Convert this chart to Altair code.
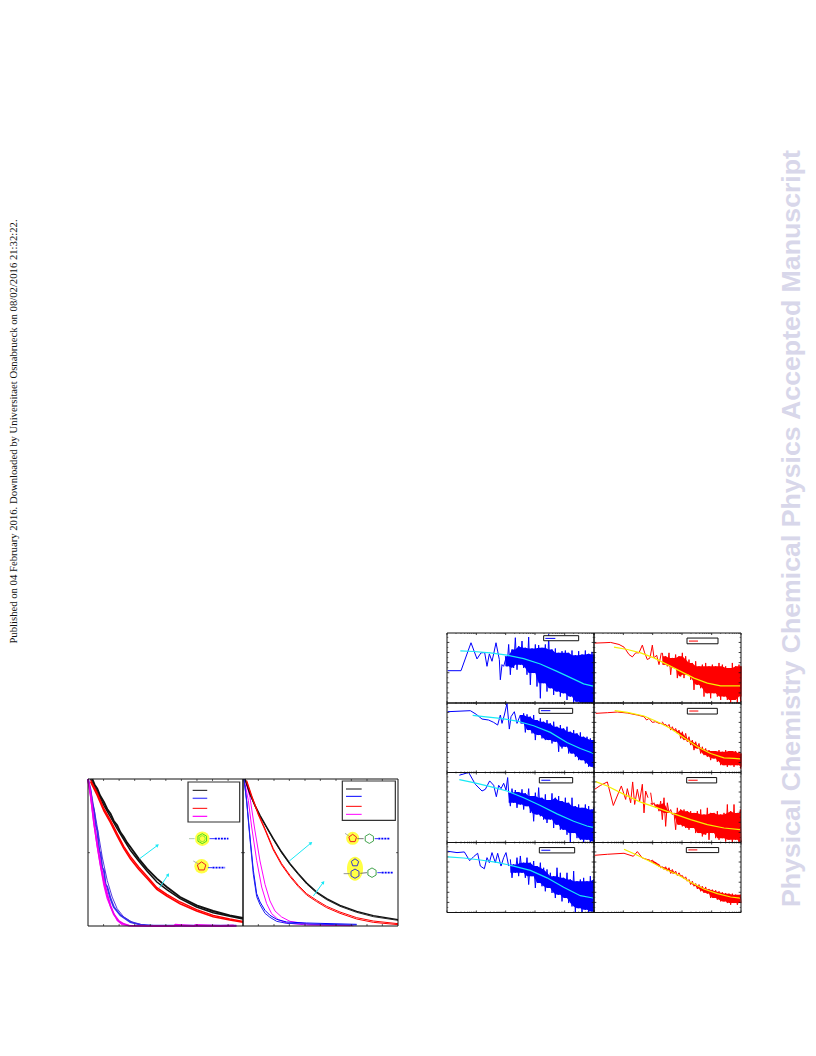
import altair as alt

# ---- text on the page
SIDE_TEXT = "Published on 04 February 2016. Downloaded by Universitaet Osnabrueck on 08/02/2016 21:32:22."
WATERMARK = "Physical Chemistry Chemical Physics Accepted Manuscript"

# ---- layout: pixel boxes (left, right, top, bottom) on the page; data extents
OFF = 8
DECAY_BOX = {"A": (88, 243, 779, 926), "B": (243, 398, 779, 926)}
DECAY_EXT = {"A": (468, 441), "B": (465, 441)}
COLS = {0: (447, 594), 1: (594, 741)}
ROWS = {0: (633, 703), 1: (703, 772.5), 2: (772.5, 842.5), 3: (842.5, 912.5)}
SPEC_EXT = (441, 208)

# ---- decay curves, panel A
a_black1_x = [13, 20, 28, 36, 48, 58, 68, 78, 88, 98, 108, 118, 128, 153, 178, 208, 238, 278, 328, 378, 428, 468]
a_black1_y = [441, 424, 412, 392, 372, 351, 337, 315, 302, 281, 267, 250, 237, 202, 172, 142, 117, 87, 62, 45, 32, 24]
a_black2_x = [8, 28, 48, 68, 88, 108, 128, 153, 178, 208, 238, 278, 328, 378, 428, 468]
a_black2_y = [441, 402, 362, 327, 292, 259, 227, 195, 165, 132, 109, 82, 57, 40, 29, 21]
a_red1_y = [437, 399, 352, 317, 277, 239, 209, 177, 149, 115, 95, 72, 49, 32, 21, 14]
a_red2_y = [432, 392, 345, 310, 270, 233, 202, 170, 143, 110, 90, 67, 45, 28, 18, 11]
a_blue_x = [0, 8, 13, 18, 24, 28, 34, 38, 43, 48, 53, 58, 68, 78, 98, 128, 158, 198, 278, 448]
a_blue_y = [441, 407, 365, 347, 300, 287, 226, 217, 175, 167, 125, 117, 82, 57, 32, 12, 4, 1, 1, 1]
a_bluefit_x = [0, 13, 28, 43, 58, 73, 88, 108, 138, 178]
a_bluefit_y = [441, 382, 297, 207, 137, 87, 52, 27, 9, 1]
a_mag1_x = [0, 8, 18, 28, 38, 48, 58, 73, 88, 103, 128, 278, 448]
a_mag1_y = [437, 387, 307, 237, 177, 122, 82, 47, 17, 4, 1, 0, 0]
a_mag2_x = [0, 8, 18, 28, 38, 48, 58, 68, 78, 93, 108, 123, 200, 260, 264, 320, 325, 400, 440]
a_mag2_y = [441, 395, 310, 245, 185, 135, 95, 60, 35, 15, 6, 1, 0, 0, 4, 0, 3, 0, 2]

# ---- decay curves, panel B
b_black_x = [6, 21, 36, 51, 71, 91, 116, 141, 166, 191, 221, 251, 291, 341, 391, 465]
b_black_y = [441, 397, 362, 332, 297, 262, 222, 187, 157, 129, 102, 82, 62, 44, 31, 19]
b_black2_y = [441, 394, 359, 329, 294, 259, 219, 184, 154, 126, 99, 79, 59, 41, 28, 17]
b_red_x = [11, 26, 46, 66, 91, 116, 141, 166, 191, 221, 251, 291, 341, 391, 465]
b_red_y = [437, 392, 337, 292, 232, 187, 152, 122, 97, 77, 59, 42, 25, 15, 7]
b_red2_y = [433, 388, 333, 288, 228, 183, 148, 118, 93, 73, 55, 38, 21, 11, 4]
b_blue_x = [3, 11, 21, 31, 41, 51, 66, 81, 101, 131, 191, 341]
b_blue_y = [441, 377, 267, 167, 97, 72, 47, 32, 20, 12, 9, 5]
b_blue2_y = [441, 372, 260, 155, 88, 64, 38, 26, 14, 8, 6, 3]
b_mag_x = [3, 16, 26, 41, 56, 71, 86, 106, 131, 191, 321]
b_mag_y = [441, 377, 297, 197, 117, 67, 37, 19, 9, 3, 1]
b_mag2_x = [6, 21, 36, 51, 66, 81, 96, 116, 141, 201, 331]
b_mag2_y = [441, 385, 285, 195, 125, 75, 45, 27, 14, 5, 1]

# ---- spectra: (column, row), low-frequency trace, noisy band, fit
SPECTRA = [
    dict(cell=(0, 0), color="#0000ff", fit="#19e8f5",
         low_x=[2, 42, 72, 90, 102, 113, 120, 127, 135, 140, 147, 152, 157, 160, 165, 170, 177],
         low_y=[96, 96, 179, 131, 149, 150, 109, 146, 124, 146, 179, 154, 129, 69, 114, 109, 134],
         band_x=list(range(175, 436, 10)) + [441],
         up=[139, 174, 159, 194, 169, 184, 164, 196, 162, 174, 172, 164, 174, 204, 159, 162, 149, 154, 156, 149, 156, 142, 154, 144, 156, 146, 152, 144],
         lo=[109, 84, 104, 99, 114, 104, 84, 54, 89, 49, 14, 59, 34, 44, 24, 34, 19, 29, 9, 19, 0, 4, 0, 0, 0, 0, 0, 0],
         fit_x=[40, 80, 130, 180, 230, 280, 330, 380, 410, 438],
         fit_y=[155, 153, 149, 142, 132, 116, 94, 71, 57, 50],
         box=(290, 395, 185, 200), key=(295, 325, 192)),
    dict(cell=(0, 1), color="#0000ff", fit="#19e8f5",
         low_x=[2, 70, 88, 105, 125, 140, 152, 160, 165, 172, 180, 187, 192, 202, 210, 220],
         low_y=[182, 185, 174, 160, 157, 150, 142, 172, 147, 172, 207, 130, 167, 182, 147, 172],
         band_x=list(range(220, 431, 10)) + [441],
         up=[172, 177, 174, 167, 172, 157, 162, 152, 157, 147, 152, 137, 142, 132, 137, 122, 127, 117, 120, 107, 107, 102, 97],
         lo=[147, 120, 127, 117, 97, 112, 102, 97, 97, 87, 92, 62, 72, 77, 57, 57, 47, 37, 37, 27, 17, 17, 12],
         fit_x=[77, 110, 160, 210, 260, 310, 360, 400, 440],
         fit_y=[171, 167, 162, 154, 140, 120, 90, 72, 57],
         box=(276, 377, 177, 192), key=(282, 310, 185)),
    dict(cell=(0, 2), color="#0000ff", fit="#19e8f5",
         low_x=[37, 65, 85, 105, 115, 128, 140, 148, 155, 162, 170, 177, 182, 185],
         low_y=[200, 208, 173, 153, 158, 183, 170, 136, 170, 160, 176, 156, 193, 148],
         band_x=list(range(185, 436, 10)) + [440],
         up=[148, 160, 156, 150, 158, 146, 160, 138, 148, 163, 133, 143, 126, 146, 133, 138, 123, 133, 118, 133, 108, 113, 103, 113, 108, 98, 103],
         lo=[108, 118, 103, 113, 98, 108, 88, 63, 83, 78, 68, 58, 68, 43, 53, 38, 38, 23, 0, 28, 13, 8, 0, 8, 0, 3, 0],
         fit_x=[37, 80, 130, 180, 230, 280, 330, 380, 420, 438],
         fit_y=[187, 178, 166, 153, 133, 110, 85, 63, 49, 45],
         box=(277, 377, 177, 193), key=(283, 310, 185)),
    dict(cell=(0, 3), color="#0000ff", fit="#19e8f5",
         low_x=[2, 30, 52, 68, 80, 92, 100, 112, 120, 127, 135, 145, 152, 162, 170, 177, 185],
         low_y=[182, 178, 180, 154, 166, 176, 138, 130, 163, 148, 178, 148, 176, 138, 163, 178, 138],
         band_x=list(range(190, 441, 10)),
         up=[158, 143, 163, 168, 148, 163, 148, 153, 138, 148, 133, 128, 118, 108, 133, 118, 103, 118, 98, 123, 93, 98, 103, 93, 108, 98],
         lo=[103, 118, 108, 118, 103, 83, 108, 73, 88, 78, 63, 73, 58, 43, 53, 33, 43, 28, 18, 0, 13, 0, 8, 0, 3, 0],
         fit_x=[2, 50, 100, 150, 200, 250, 300, 350, 400, 438],
         fit_y=[165, 162, 156, 149, 138, 125, 103, 75, 50, 43],
         box=(277, 383, 177, 193), key=(283, 310, 185)),
    dict(cell=(1, 0), color="#ff0000", fit="#f5f000",
         low_x=[2, 30, 50, 75, 90, 105, 115, 125, 135, 145, 152, 160, 168, 175, 180, 188, 195, 202],
         low_y=[178, 179, 180, 174, 166, 144, 137, 149, 149, 172, 149, 129, 134, 172, 134, 142, 114, 149],
         band_x=list(range(205, 436, 10)) + [441],
         up=[149, 139, 149, 134, 144, 139, 149, 139, 129, 119, 124, 109, 114, 119, 109, 114, 109, 119, 114, 109, 104, 119, 109, 114, 109],
         lo=[114, 109, 84, 104, 74, 79, 74, 84, 69, 39, 54, 44, 19, 29, 14, 29, 19, 9, 19, 9, 0, 9, 0, 4, 19],
         fit_x=[60, 100, 140, 180, 220, 260, 300, 340, 380, 410, 438],
         fit_y=[166, 159, 149, 134, 114, 94, 74, 59, 51, 51, 51],
         box=(279, 372, 176, 193), key=(285, 312, 184)),
    dict(cell=(1, 1), color="#ff0000", fit="#f5f000",
         low_x=[5, 40, 70, 100, 130, 150, 158, 165, 175, 185, 195, 205],
         low_y=[177, 179, 181, 178, 172, 167, 157, 162, 150, 152, 147, 147],
         band_x=list(range(205, 436, 10)) + [441],
         up=[152, 144, 144, 137, 132, 127, 122, 117, 107, 97, 92, 87, 77, 72, 67, 64, 64, 67, 62, 67, 64, 64, 64, 62, 57],
         lo=[142, 137, 127, 124, 117, 102, 97, 92, 82, 67, 72, 57, 52, 47, 37, 42, 32, 22, 22, 17, 22, 17, 22, 12, 17],
         fit_x=[62, 100, 150, 190, 230, 270, 310, 350, 390, 420, 438],
         fit_y=[185, 180, 169, 152, 132, 104, 77, 57, 44, 42, 41],
         box=(280, 370, 175, 192), key=(286, 313, 184)),
    dict(cell=(1, 2), color="#ff0000", fit="#f5f000",
         low_x=[2, 20, 40, 58, 82, 95, 100, 110, 116, 122, 130, 137, 145, 150, 155, 162],
         low_y=[158, 170, 180, 110, 168, 128, 160, 118, 180, 113, 158, 123, 173, 88, 153, 133],
         band_x=list(range(170, 431, 10)) + [439],
         up=[148, 118, 113, 123, 133, 118, 98, 88, 103, 98, 98, 93, 93, 88, 93, 98, 83, 103, 88, 88, 93, 83, 88, 113, 93, 113, 88, 98],
         lo=[113, 103, 93, 68, 48, 88, 83, 38, 53, 48, 43, 38, 43, 28, 28, 18, 23, 8, 28, 13, 8, 13, 3, 8, 0, 8, 0, 0],
         fit_x=[5, 40, 90, 140, 190, 240, 290, 340, 390, 438],
         fit_y=[181, 168, 143, 120, 103, 85, 68, 53, 43, 38],
         box=(278, 368, 177, 193), key=(283, 311, 185)),
    dict(cell=(1, 3), color="#ff0000", fit="#f5f000",
         low_x=[2, 40, 90, 118, 130, 145, 165],
         low_y=[170, 173, 176, 167, 181, 162, 156],
         band_x=list(range(165, 426, 10)) + [439],
         up=[158, 156, 148, 143, 136, 136, 133, 128, 123, 118, 110, 106, 98, 93, 86, 83, 78, 76, 70, 68, 66, 63, 60, 58, 56, 56, 53, 53],
         lo=[152, 150, 143, 133, 128, 123, 116, 116, 110, 108, 100, 93, 83, 78, 70, 63, 58, 56, 43, 43, 38, 33, 33, 28, 23, 28, 23, 28],
         fit_x=[90, 130, 170, 210, 250, 290, 330, 370, 410, 438],
         fit_y=[188, 170, 151, 130, 113, 90, 70, 56, 46, 43],
         box=(277, 374, 178, 193), key=(283, 310, 186)),
]

# ---- ticks
decade_ticks = [0, 88, 176, 264, 353, 441]
minor_ticks = [d + m for d in [0, 88, 176, 264, 353] for m in [27, 42, 53, 62, 68, 74, 80, 84]]
spec_y_major = [30, 60, 90, 120, 150, 180]
spec_y_minor = [15, 45, 75, 105, 135, 165, 195]
decay_x_ticks_a = [47, 94, 141, 188, 235, 282, 329, 376, 423]
decay_x_ticks_b = [46, 93, 139, 186, 232, 279, 325, 372, 418]
decay_y_ticks = [220]

layers = []


def scales(box, ext):
    sx = alt.Scale(domain=[0, ext[0]], range=[box[0] - OFF, box[1] - OFF], zero=False, nice=False)
    sy = alt.Scale(domain=[0, ext[1]], range=[box[3] - OFF, box[2] - OFF], zero=False, nice=False)
    return sx, sy


def line(box, ext, xs, ys, color, w=1.0):
    sx, sy = scales(box, ext)
    vals = [{"x": a, "y": b} for a, b in zip(xs, ys)]
    layers.append(alt.Chart(alt.Data(values=vals)).mark_line(color=color, strokeWidth=w).encode(
        x=alt.X("x:Q", scale=sx, axis=None), y=alt.Y("y:Q", scale=sy, axis=None)))


def noisy(box, ext, xs, up, lo, color):
    """The noise band: a solid core inside the peaks and troughs read off the picture,
    and a trace that runs between those peaks and troughs."""
    n = len(xs)
    W = ext[0]
    core_up = [min(up[max(i - 1, 0):i + 2]) for i in range(n)]
    core_lo = [max(lo[max(i - 1, 0):i + 2]) for i in range(n)]
    sx, sy = scales(box, ext)
    vals = [{"x": a, "up": b, "lo": c} for a, b, c in zip(xs, core_up, core_lo)]
    layers.append(alt.Chart(alt.Data(values=vals)).mark_area(color=color).encode(
        x=alt.X("x:Q", scale=sx, axis=None), y=alt.Y("up:Q", scale=sy, axis=None), y2=alt.Y2("lo")))
    px, py = [], []
    for i in range(n):
        px += [min(xs[i], W), min(xs[i] + 5, W)]
        py += [up[i], lo[i]]
    line(box, ext, px, py, color, 1.0)


def rect(box, ext, x0, x1, y0, y1, fill, stroke, w=1.0):
    sx, sy = scales(box, ext)
    vals = [{"x": x0, "x2": x1, "y": y0, "y2": y1}]
    kw = {"fill": fill} if fill else {"fillOpacity": 0}
    layers.append(alt.Chart(alt.Data(values=vals)).mark_rect(stroke=stroke, strokeWidth=w, **kw).encode(
        x=alt.X("x:Q", scale=sx, axis=None), x2=alt.X2("x2"),
        y=alt.Y("y:Q", scale=sy, axis=None), y2=alt.Y2("y2")))


def segs(box, ext, rows, color, w=0.8, dash=None):
    sx, sy = scales(box, ext)
    vals = [{"x": a, "x2": b, "y": c, "y2": d} for a, b, c, d in rows]
    kw = {"strokeDash": dash} if dash else {}
    layers.append(alt.Chart(alt.Data(values=vals)).mark_rule(color=color, strokeWidth=w, **kw).encode(
        x=alt.X("x:Q", scale=sx, axis=None), x2=alt.X2("x2"),
        y=alt.Y("y:Q", scale=sy, axis=None), y2=alt.Y2("y2")))


def sym(box, ext, x, y, shape, size, fill=None, stroke=None, w=1.0, angle=0):
    sx, sy = scales(box, ext)
    vals = [{"x": x, "y": y}]
    kw = {"fill": fill, "opacity": 1, "filled": True, "strokeWidth": 0} if fill else {
        "stroke": stroke, "strokeWidth": w, "filled": False, "opacity": 1}
    layers.append(alt.Chart(alt.Data(values=vals)).mark_point(shape=shape, size=size, angle=angle, **kw).encode(
        x=alt.X("x:Q", scale=sx, axis=None), y=alt.Y("y:Q", scale=sy, axis=None)))


HEX = "M0,-1L0.866,-0.5L0.866,0.5L0,1L-0.866,0.5L-0.866,-0.5Z"
PENT = "M0,-1L0.951,-0.309L0.588,0.809L-0.588,0.809L-0.951,-0.309Z"
OVAL = "M0,-1A0.67,1 0 1 1 0,1A0.67,1 0 1 1 0,-1Z"
YELLOW = "#ffff44"
GREEN = "#2f9a3a"
LIME = "#44dd22"
CY = "#19e8f5"

# ==== decay panels
A, EA = DECAY_BOX["A"], DECAY_EXT["A"]
B, EB = DECAY_BOX["B"], DECAY_EXT["B"]

line(A, EA, a_blue_x, a_blue_y, "#3333ee", 1.9)
line(A, EA, a_bluefit_x, a_bluefit_y, "#4422dd", 0.9)
line(A, EA, a_mag1_x, a_mag1_y, "#ff00ff", 1.3)
line(A, EA, a_mag2_x, a_mag2_y, "#ee00ee", 1.9)
line(A, EA, a_black1_x, a_black1_y, "#111111", 1.9)
line(A, EA, a_black2_x, a_black2_y, "#111111", 1.5)
line(A, EA, a_black2_x, a_red1_y, "#ff0000", 1.4)
line(A, EA, a_black2_x, a_red2_y, "#ff0000", 1.6)

line(B, EB, b_mag_x, b_mag_y, "#ff00ff", 1.0)
line(B, EB, b_mag2_x, b_mag2_y, "#ff00ff", 1.0)
line(B, EB, b_blue_x, b_blue_y, "#0000ff", 1.0)
line(B, EB, b_blue_x, b_blue2_y, "#2222ee", 1.0)
line(B, EB, b_black_x, b_black_y, "#111111", 1.4)
line(B, EB, b_black_x, b_black2_y, "#111111", 0.9)
line(B, EB, b_red_x, b_red_y, "#ff0000", 1.0)
line(B, EB, b_red_x, b_red2_y, "#ff0000", 1.0)

# arrows
ARROWS_A = [(156, 202, 210, 242, 53), (216, 115, 242, 154, 34)]
ARROWS_B = [(139, 195, 204, 249, 50), (211, 90, 241, 131, 36)]
for bx, ex, arrows in [(A, EA, ARROWS_A), (B, EB, ARROWS_B)]:
    for x0, y0, x1, y1, ang in arrows:
        segs(bx, ex, [(x0, x1, y0, y1)], CY, 1.0)
        sym(bx, ex, x1, y1, "triangle-up", 14, fill=CY, angle=ang)

# legends of decay panels
rect(A, EA, 302, 458, 312, 432, "#ffffff", "#333333", 1.2)
for yy, col, w in [(407, "#111111", 1.0), (383, "#5555ff", 1.4), (353, "#ff0000", 1.0), (329, "#ff00ff", 1.2)]:
    segs(A, EA, [(316, 360, yy, yy)], col, w)
rect(B, EB, 298, 457, 317, 435, "#ffffff", "#333333", 1.2)
for yy, col, w in [(411, "#111111", 1.0), (389, "#0000ff", 1.0), (359, "#ff0000", 1.0), (335, "#ff00ff", 1.0)]:
    segs(B, EB, [(309, 356, yy, yy)], col, w)

# molecules, panel A
sym(A, EA, 345, 262, "circle", 210, fill=YELLOW)
sym(A, EA, 345, 262, HEX, 100, stroke=LIME, w=1.0)
sym(A, EA, 345, 262, "circle", 35, stroke=LIME, w=0.6)
segs(A, EA, [(305, 322, 262, 262)], "#99bb99", 0.8)
segs(A, EA, [(367, 383, 262, 262)], "#0000ff", 0.8)
segs(A, EA, [(383, 424, 262, 262)], "#0000ff", 1.8, [2, 1])
sym(A, EA, 343, 179, "circle", 210, fill=YELLOW)
sym(A, EA, 343, 179, PENT, 80, stroke="#ee2222", w=1.0)
segs(A, EA, [(318, 332, 195, 187)], "#999999", 0.8)
segs(A, EA, [(362, 376, 175, 175)], "#0000ff", 0.8)
segs(A, EA, [(376, 414, 175, 175)], "#0000ff", 1.8, [2, 1])

# molecules, panel B
sym(B, EB, 329, 263, "circle", 170, fill=YELLOW)
sym(B, EB, 329, 263, PENT, 65, stroke="#ee2222", w=1.0)
segs(B, EB, [(306, 318, 278, 270)], "#999999", 0.8)
segs(B, EB, [(343, 362, 262, 262)], "#555555", 0.8)
sym(B, EB, 379, 262, HEX, 90, stroke=GREEN, w=0.9)
segs(B, EB, [(395, 406, 262, 262)], "#0000ff", 0.8)
segs(B, EB, [(406, 441, 262, 262)], "#0000ff", 1.8, [2, 1])
sym(B, EB, 336, 172, OVAL, 576, fill=YELLOW)
sym(B, EB, 336, 190, PENT, 60, stroke="#2222dd", w=0.9)
sym(B, EB, 336, 157, HEX, 85, stroke="#2222dd", w=0.9)
segs(B, EB, [(302, 320, 157, 157)], "#777777", 0.8)
segs(B, EB, [(352, 372, 158, 160)], "#555555", 0.8)
sym(B, EB, 387, 160, HEX, 90, stroke=GREEN, w=0.9)
segs(B, EB, [(403, 416, 160, 160)], "#0000ff", 0.8)
segs(B, EB, [(416, 451, 160, 160)], "#0000ff", 1.8, [2, 1])

# ticks and frames of decay panels
for bx, ex, xt in [(A, EA, decay_x_ticks_a), (B, EB, decay_x_ticks_b)]:
    segs(bx, ex, [(t, t, 0, 6) for t in xt] + [(t, t, ex[1] - 6, ex[1]) for t in xt], "#222222", 0.7)
    segs(bx, ex, [(0, 6, t, t) for t in decay_y_ticks] + [(ex[0] - 6, ex[0], t, t) for t in decay_y_ticks], "#222222", 0.7)
    rect(bx, ex, 0, ex[0], 0, ex[1], None, "#111111", 1.0)

# ==== spectra panels
for s in SPECTRA:
    c, r = s["cell"]
    box = (COLS[c][0], COLS[c][1], ROWS[r][0], ROWS[r][1])
    line(box, SPEC_EXT, s["low_x"], s["low_y"], s["color"], 1.0)
    noisy(box, SPEC_EXT, s["band_x"], s["up"], s["lo"], s["color"])
    line(box, SPEC_EXT, s["fit_x"], s["fit_y"], s["fit"], 1.2)
    x0, x1, y0, y1 = s["box"]
    rect(box, SPEC_EXT, x0, x1, y0, y1, "#ffffff", "#111111", 1.0)
    k0, k1, ky = s["key"]
    segs(box, SPEC_EXT, [(k0, k1, ky, ky)], s["color"], 1.0)
    H = SPEC_EXT[1]
    W = SPEC_EXT[0]
    segs(box, SPEC_EXT, [(t, t, 0, 6) for t in decade_ticks] + [(t, t, H - 6, H) for t in decade_ticks], "#111111", 0.8)
    segs(box, SPEC_EXT, [(t, t, 0, 3) for t in minor_ticks] + [(t, t, H - 3, H) for t in minor_ticks], "#222222", 0.6)
    segs(box, SPEC_EXT, [(0, 7, t, t) for t in spec_y_major] + [(W - 7, W, t, t) for t in spec_y_major], "#111111", 0.8)
    segs(box, SPEC_EXT, [(0, 4, t, t) for t in spec_y_minor] + [(W - 4, W, t, t) for t in spec_y_minor], "#222222", 0.6)
    rect(box, SPEC_EXT, 0, W, 0, H, None, "#111111", 1.0)

# ==== page text
one = alt.Data(values=[{"t": 1}])
layers.append(alt.Chart(one).mark_text(
    text=SIDE_TEXT, font="Liberation Serif", fontSize=10.7, angle=270, color="#111111",
    align="center", baseline="middle").encode(x=alt.value(6), y=alt.value(431.5 - OFF)))
layers.append(alt.Chart(one).mark_text(
    text=WATERMARK, font="Liberation Sans", fontWeight="bold", fontSize=26.7, angle=270, color="#d8d7ea",
    align="center", baseline="middle").encode(x=alt.value(792 - OFF), y=alt.value(528.5 - OFF)))

chart = alt.layer(*layers).resolve_scale(x="independent", y="independent").properties(
    width=800, height=1040, padding=0,
    autosize=alt.AutoSizeParams(type="none", contains="padding"),
    background="#ffffff",
).configure_view(strokeWidth=0)

chart.save("out.html", embed_options={"renderer": "svg", "actions": False})
